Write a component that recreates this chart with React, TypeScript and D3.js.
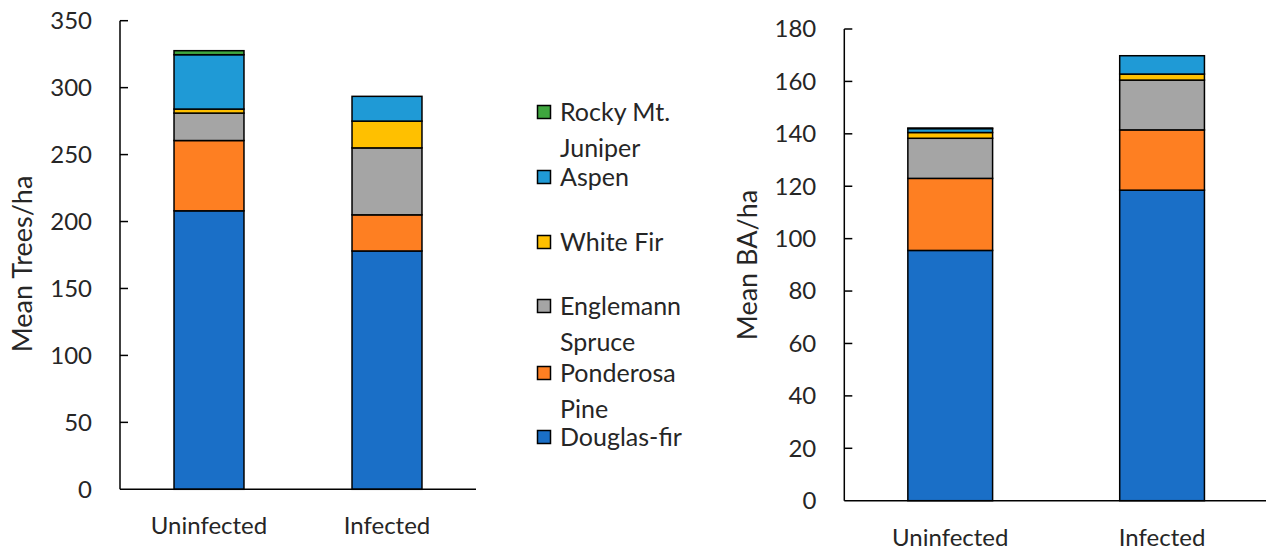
import React from "react";
import * as d3 from "d3";

const categories = ["Uninfected", "Infected"];
const species = ["Douglas-fir", "Ponderosa Pine", "Englemann Spruce", "White Fir", "Aspen", "Rocky Mt. Juniper"];
const speciesColors = ["#1A6FC7", "#FE7F22", "#A5A5A5", "#FFC000", "#1F9AD6", "#3FA63F"];

// Mean Trees/ha per species [Uninfected, Infected]
const treesDouglasFir = [208, 178];
const treesPonderosa = [52.5, 27];
const treesEngelmann = [20.5, 50];
const treesWhiteFir = [3, 20];
const treesAspen = [40.6, 18.5];
const treesJuniper = [3, 0];

// Mean BA/ha per species [Uninfected, Infected]
const baDouglasFir = [95.5, 118.5];
const baPonderosa = [27.5, 23];
const baEngelmann = [15.3, 19];
const baWhiteFir = [2.2, 2.3];
const baAspen = [1.5, 7];
const baJuniper = [0.2, 0];

const treesTicks = [0, 50, 100, 150, 200, 250, 300, 350];
const baTicks = [0, 20, 40, 60, 80, 100, 120, 140, 160, 180];

const legendLines = [["Rocky Mt.", "Juniper"], ["Aspen"], ["White Fir"], ["Englemann", "Spruce"], ["Ponderosa", "Pine"], ["Douglas-fir"]];

const FONT = "Lato, 'Open Sans', sans-serif";
const TEXT = "#262626";

type PanelProps = {
  series: number[][];
  ticks: number[];
  yMax: number;
  x0: number; x1: number; yTop: number; yBottom: number;
  title: string; titleX: number; titleY: number;
  padding: number;
  labelDy: number;
};

function Panel({ series, ticks, yMax, x0, x1, yTop, yBottom, title, titleX, titleY, padding, labelDy }: PanelProps) {
  const x = d3.scaleBand<string>().domain(categories).range([x0, x1]).paddingInner(padding).paddingOuter(padding / 2);
  const y = d3.scaleLinear().domain([0, yMax]).range([yBottom, yTop]);
  const rows = categories.map((c, i) => {
    const o: any = { cat: c };
    species.forEach((s, j) => (o[s] = series[j][i]));
    return o;
  });
  const stacked = d3.stack<any>().keys(species)(rows);
  return (
    <g>
      {stacked.map((layer, j) =>
        layer.map((d, i) => {
          const h = y(d[0]) - y(d[1]);
          if (h <= 0) return null;
          return (
            <rect key={`${j}-${i}`} x={x(categories[i])} y={y(d[1])} width={x.bandwidth()} height={h}
              fill={speciesColors[j]} stroke="#000" strokeWidth={1.5} />
          );
        })
      )}
      <line x1={x0} x2={x1} y1={yBottom} y2={yBottom} stroke="#000" strokeWidth={1.5} />
      <line x1={x0} x2={x0} y1={yTop} y2={yBottom} stroke="#000" strokeWidth={1.5} />
      {ticks.map((t) => (
        <g key={t}>
          {t > 0 && <line x1={x0} x2={x0 + 8} y1={y(t)} y2={y(t)} stroke="#000" strokeWidth={1.5} />}
          <text x={x0 - 28} y={y(t)} dy="0.35em" textAnchor="end" fontSize={24} fill={TEXT} fontFamily={FONT}>{t}</text>
        </g>
      ))}
      {categories.map((c) => (
        <text key={c} x={(x(c) as number) + x.bandwidth() / 2} y={yBottom + labelDy} textAnchor="middle" fontSize={24} fill={TEXT} fontFamily={FONT}>{c}</text>
      ))}
      <text transform={`translate(${titleX},${titleY}) rotate(-90)`} dy="0.35em" textAnchor="middle" fontSize={27} fill={TEXT} fontFamily={FONT}>{title}</text>
    </g>
  );
}

export default function App() {
  const treesSeries = [treesDouglasFir, treesPonderosa, treesEngelmann, treesWhiteFir, treesAspen, treesJuniper];
  const baSeries = [baDouglasFir, baPonderosa, baEngelmann, baWhiteFir, baAspen, baJuniper];
  const legendY = [112, 177, 242, 306, 373, 437];
  const legendColors = [...speciesColors].reverse();
  return (
    <svg width={1266} height={551} style={{ position: "absolute", left: 0, top: 0, background: "#fff" }}>
      <rect width={1266} height={551} fill="#fff" />
      <Panel series={treesSeries} ticks={treesTicks} yMax={350} x0={120} x1={476} yTop={20.7} yBottom={489.3}
        title="Mean Trees/ha" titleX={23} titleY={264} padding={0.607} labelDy={45} />
      <Panel series={baSeries} ticks={baTicks} yMax={180} x0={844.3} x1={1268} yTop={29} yBottom={500.7}
        title="Mean BA/ha" titleX={748} titleY={265} padding={0.6} labelDy={45} />
      {legendLines.map((lines, i) => (
        <g key={i}>
          <rect x={537.5} y={legendY[i] - 6.5} width={13} height={13} fill={legendColors[i]} stroke="#000" strokeWidth={1.5} />
          {lines.map((l, k) => (
            <text key={k} x={560} y={legendY[i] + k * 36} dy="0.35em" fontSize={25} fill={TEXT} fontFamily={FONT}>{l}</text>
          ))}
        </g>
      ))}
    </svg>
  );
}
